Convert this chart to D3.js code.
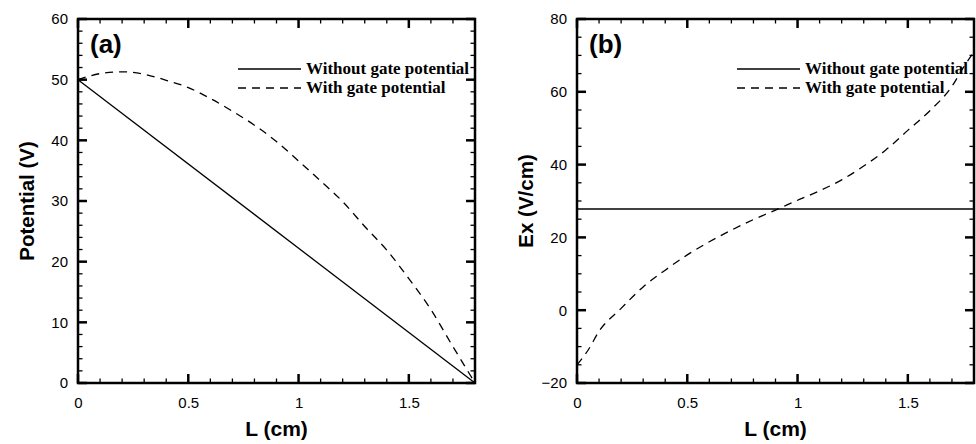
<!DOCTYPE html>
<html>
<head>
<meta charset="utf-8">
<script src="https://cdn.jsdelivr.net/npm/d3@7"></script>
<style>
  body { margin: 0; background: #fff; }
  .tick text { font-family: "Liberation Sans", Arial, sans-serif; font-size: 15px; fill: #000; }
  .legend text { font-family: "Liberation Serif", "Times New Roman", serif; font-weight: bold; font-size: 17px; }
</style>
</head>
<body>
<script>
// Data
const potL = [0, 0.1, 0.2, 0.3, 0.4, 0.5, 0.6, 0.7, 0.8, 0.9, 1.0, 1.1, 1.2, 1.3, 1.4, 1.5, 1.6, 1.7, 1.75, 1.8];
const potGate = [50, 51.0, 51.3, 50.9, 49.9, 48.7, 46.9, 44.8, 42.5, 39.8, 36.6, 33.3, 29.9, 25.8, 21.9, 17.2, 12.1, 6.0, 3.0, 0];
const potNoGateL = [0, 1.8];
const potNoGate = [50, 0];

const exL = [0, 0.05, 0.1, 0.2, 0.3, 0.4, 0.5, 0.6, 0.7, 0.8, 0.9, 1.0, 1.1, 1.2, 1.3, 1.4, 1.5, 1.6, 1.7, 1.75, 1.8];
const exGate = [-15, -11, -5.8, 0.5, 6.4, 11, 15.2, 18.8, 22, 24.9, 27.5, 30.2, 32.8, 35.8, 39.6, 44.0, 49.4, 54.8, 61.5, 66.5, 71];
const exNoGateL = [0, 1.8];
const exNoGate = [27.8, 27.8];

const xTicks = [0, 0.5, 1, 1.5];
const potTicks = [0, 10, 20, 30, 40, 50, 60];
const exTicks = [-20, 0, 20, 40, 60, 80];
const legendLabels = ["Without gate potential", "With gate potential"];

let width = 976, height = 444;
let svg = d3.select('body')
    .append('svg')
    .attr('width', width)
    .attr('height', height);

function drawPanel(opt) {
  const x = d3.scaleLinear().domain([0, 1.8]).range([opt.left, opt.right]);
  const y = d3.scaleLinear().domain(opt.yDomain).range([opt.bottom, opt.top]);
  const g = svg.append('g');

  // curves
  const line = d3.line()
    .x(d => x(d[0]))
    .y(d => y(d[1]))
    .curve(d3.curveMonotoneX);

  g.append('path')
    .datum(opt.solidL.map((v, i) => [v, opt.solid[i]]))
    .attr('fill', 'none').attr('stroke', '#000').attr('stroke-width', 1.3)
    .attr('d', line);

  g.append('path')
    .datum(opt.dashL.map((v, i) => [v, opt.dash[i]]))
    .attr('fill', 'none').attr('stroke', '#000').attr('stroke-width', 1.3)
    .attr('stroke-dasharray', '8,6')
    .attr('d', line);

  // tick labels from d3 axes (no tick lines here)
  g.append('g').attr('transform', `translate(0,${opt.bottom})`)
    .call(d3.axisBottom(x).tickValues(xTicks).tickSize(0).tickPadding(14).tickFormat(d3.format('')))
    .call(a => a.select('.domain').remove());
  g.append('g').attr('transform', `translate(${opt.left},0)`)
    .call(d3.axisLeft(y).tickValues(opt.yTicks).tickSize(0).tickPadding(10))
    .call(a => a.select('.domain').remove());

  // inward ticks on all four sides
  const xMinor = d3.range(0, 1.81, 0.1).filter(v => xTicks.indexOf(+v.toFixed(1)) < 0);
  const yMinor = d3.range(opt.yDomain[0], opt.yDomain[1] + 0.01, opt.yMinorStep)
    .filter(v => opt.yTicks.indexOf(v) < 0);
  const [x0, x1] = x.range();
  const [y0, y1] = y.range();

  function xTickLines(vals, len, sw) {
    [[y0, -1], [y1, 1]].forEach(function(side) {
      g.append('g').selectAll('line').data(vals).enter().append('line')
        .attr('x1', d => x(d)).attr('x2', d => x(d))
        .attr('y1', side[0]).attr('y2', side[0] + side[1] * len)
        .attr('stroke', '#000').attr('stroke-width', sw);
    });
  }
  function yTickLines(vals, len, sw) {
    [[x0, 1], [x1, -1]].forEach(function(side) {
      g.append('g').selectAll('line').data(vals).enter().append('line')
        .attr('y1', d => y(d)).attr('y2', d => y(d))
        .attr('x1', side[0]).attr('x2', side[0] + side[1] * len)
        .attr('stroke', '#000').attr('stroke-width', sw);
    });
  }
  xTickLines(xMinor, 4.5, 1.3);
  yTickLines(yMinor, 4.5, 1.3);
  xTickLines(xTicks, 9, 2.5);
  yTickLines(opt.yTicks, 9, 2.5);

  // frame
  g.append('rect')
    .attr('x', x0).attr('y', y1)
    .attr('width', x1 - x0).attr('height', y0 - y1)
    .attr('fill', 'none').attr('stroke', '#000').attr('stroke-width', 2.5);

  // panel letter
  g.append('text')
    .attr('x', opt.left + 12).attr('y', opt.top + 34)
    .style('font-family', '"Liberation Sans", Arial, sans-serif')
    .style('font-weight', 'bold').style('font-size', '26px')
    .text(opt.letter);

  // legend
  const lg = g.append('g').attr('class', 'legend');
  legendLabels.forEach(function(lab, i) {
    const ly = 69 + i * 19;
    lg.append('line')
      .attr('x1', opt.legendX).attr('x2', opt.legendX + 63)
      .attr('y1', ly).attr('y2', ly)
      .attr('stroke', '#000').attr('stroke-width', 1.3)
      .attr('stroke-dasharray', i === 1 ? '8,6' : null);
    lg.append('text')
      .attr('x', opt.legendX + 68).attr('y', ly + 5)
      .text(lab);
  });

  // axis titles
  g.append('text')
    .attr('x', (opt.left + opt.right) / 2).attr('y', 436)
    .style('text-anchor', 'middle')
    .style('font-family', '"Liberation Sans", Arial, sans-serif')
    .style('font-weight', 'bold').style('font-size', '21px')
    .text('L (cm)');

  g.append('text')
    .attr('transform', `translate(${opt.left - 44},${(opt.top + opt.bottom) / 2}) rotate(-90)`)
    .style('text-anchor', 'middle')
    .style('font-family', '"Liberation Sans", Arial, sans-serif')
    .style('font-weight', 'bold').style('font-size', '20.5px')
    .text(opt.yTitle);
}

drawPanel({
  letter: '(a)', left: 78, right: 475, top: 19, bottom: 383,
  yDomain: [0, 60], yTicks: potTicks, yMinorStep: 2, yTitle: 'Potential (V)',
  solidL: potNoGateL, solid: potNoGate, dashL: potL, dash: potGate, legendX: 238
});

drawPanel({
  letter: '(b)', left: 577, right: 974, top: 19, bottom: 383,
  yDomain: [-20, 80], yTicks: exTicks, yMinorStep: 5, yTitle: 'Ex (V/cm)',
  solidL: exNoGateL, solid: exNoGate, dashL: exL, dash: exGate, legendX: 737
});
</script>
</body>
</html>
